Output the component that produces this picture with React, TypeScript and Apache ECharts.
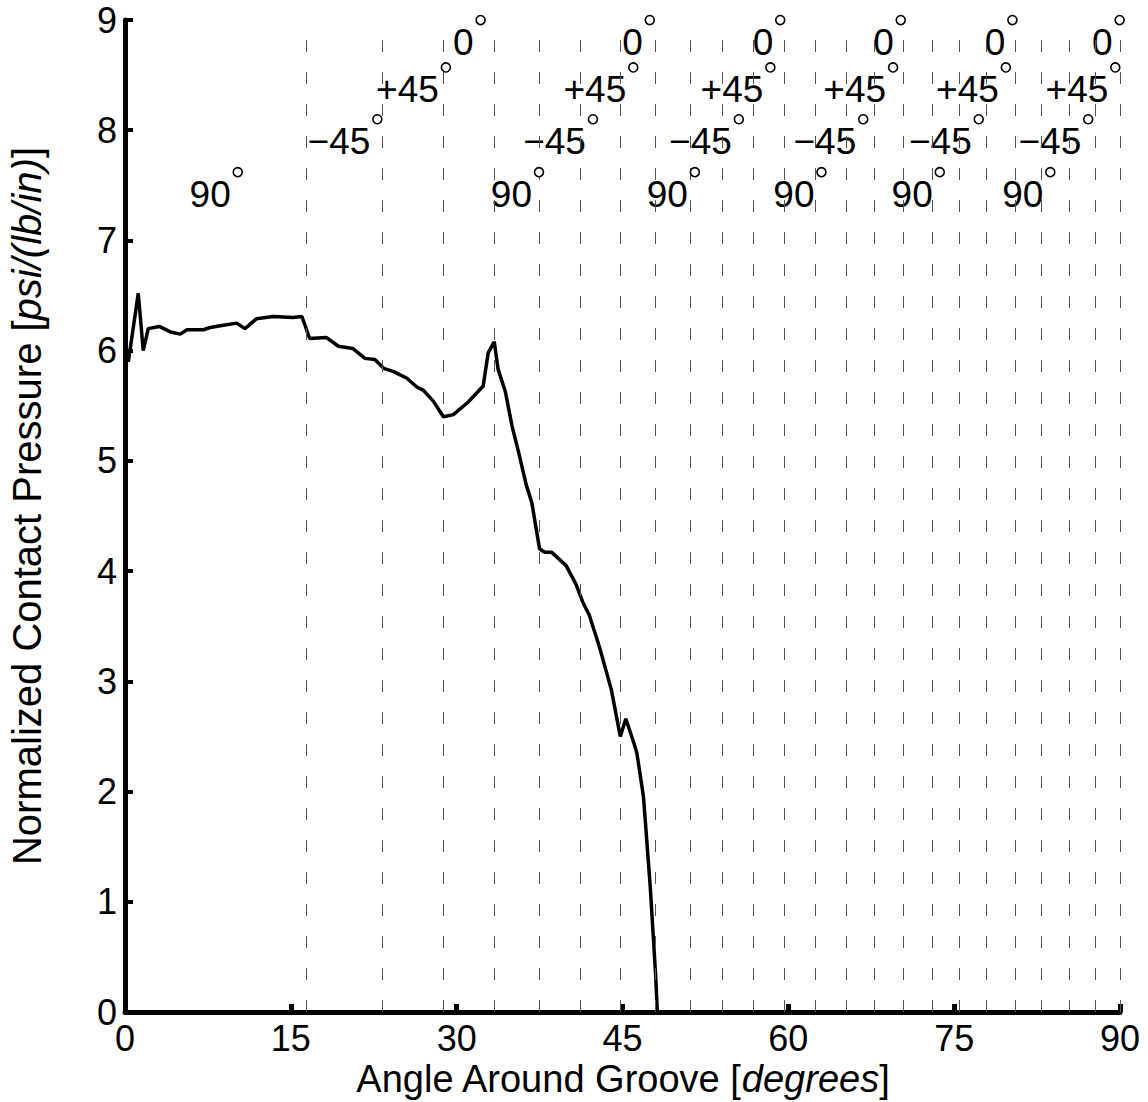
import React, { useEffect, useRef } from 'react';
import * as echarts from 'echarts';

// Curve: angle around groove [deg] vs normalized contact pressure
const angle = [0, 0.3, 1.2, 1.65, 2.1, 3.1, 4.1, 5.0, 5.6, 7.1, 7.7, 8.9, 10.1, 10.85, 11.9, 13.4, 15.2, 16.0, 16.7, 18.2, 19.3, 20.6, 21.7, 22.6, 23.4, 24.3, 25.5, 26.4, 27.0, 27.9, 28.8, 29.7, 31.0, 32.4, 32.85, 33.4, 33.75, 34.4, 35.0, 35.6, 36.3, 36.8, 37.5, 38.0, 38.6, 39.9, 40.8, 41.4, 42.0, 42.95, 44.0, 44.8, 45.3, 46.0, 46.3, 46.9, 47.5, 48.0, 48.15];
const pressure = [6.02, 5.9, 6.52, 6.0, 6.2, 6.22, 6.17, 6.15, 6.19, 6.19, 6.21, 6.23, 6.25, 6.2, 6.29, 6.31, 6.3, 6.31, 6.11, 6.12, 6.04, 6.02, 5.93, 5.92, 5.84, 5.81, 5.75, 5.67, 5.64, 5.54, 5.4, 5.42, 5.53, 5.68, 5.98, 6.08, 5.83, 5.63, 5.32, 5.08, 4.78, 4.62, 4.2, 4.17, 4.17, 4.05, 3.88, 3.72, 3.6, 3.3, 2.92, 2.5, 2.66, 2.45, 2.35, 1.95, 1.15, 0.33, 0.0];

// Ply boundaries (dashed vertical lines), degrees
const plyBoundaries = [16.4, 23.3, 28.8, 33.4, 37.5, 41.2, 44.8, 48.0, 51.1, 54.0, 56.8, 59.6, 62.4, 65.2, 67.8, 70.4, 73.0, 75.5, 77.9, 80.5, 82.9, 85.4, 87.8, 90];

// Ply orientation labels, one per region between boundaries
const plyLabels = ['90', '−45', '+45', '0', '90', '−45', '+45', '0', '90', '−45', '+45', '0', '90', '−45', '+45', '0', '90', '−45', '+45', '0', '90', '−45', '+45', '0'];
const plyLabelNames = ['90', '−45', '+45', '0'];
const plyLabelHeights = [7.42, 7.9, 8.37, 8.8];

const xTickInterval = 15;
const yTickInterval = 1;

const FONT = "'Liberation Sans', Arial, Helvetica, sans-serif";
const LABEL_SIZE = 37;

export default function App() {
  const ref = useRef<HTMLDivElement>(null);

  useEffect(() => {
    const el = ref.current;
    if (!el) return;
    const chart = echarts.init(el, null, { renderer: 'svg' });

    const canvas = document.createElement('canvas');
    const ctx = canvas.getContext('2d');
    const measure = (t: string) => {
      if (!ctx) return t.length * 0.56 * LABEL_SIZE;
      ctx.font = `${LABEL_SIZE}px ${FONT}`;
      return ctx.measureText(t).width;
    };

    const edges = [0, ...plyBoundaries];
    const labelData = plyLabels.map((lab, i) => {
      const cx = (edges[i] + edges[i + 1]) / 2;
      const row = plyLabelHeights[plyLabelNames.indexOf(lab)];
      return { value: [cx, row], name: lab };
    });
    const ringData = plyLabels.map((lab, i) => {
      const cx = (edges[i] + edges[i + 1]) / 2;
      const row = plyLabelHeights[plyLabelNames.indexOf(lab)];
      const w = measure(lab);
      return { value: [cx, row], symbolOffset: [w / 2 + 1.5, -22] };
    });

    const option: any = {
      animation: false,
      backgroundColor: '#ffffff',
      textStyle: { fontFamily: FONT },
      grid: { left: 125, right: 28, top: 20, bottom: 90, containLabel: false, outerBoundsMode: 'none' },
      xAxis: {
        type: 'value',
        min: 0,
        max: 90,
        interval: xTickInterval,
        name: 'Angle Around Groove [{i|degrees}]',
        nameLocation: 'middle',
        nameGap: 48,
        nameMoveOverlap: false,
        nameTextStyle: {
          fontSize: 38,
          lineHeight: 38,
          color: '#000',
          fontFamily: FONT,
          rich: { i: { fontSize: 38, lineHeight: 38, fontStyle: 'italic', color: '#000', fontFamily: FONT } },
        },
        axisLine: { show: true, onZero: false, lineStyle: { color: '#000', width: 5 } },
        axisTick: { show: true, inside: true, length: 8, lineStyle: { color: '#000', width: 5 } },
        axisLabel: { fontSize: 36, color: '#000', margin: 8, fontFamily: FONT },
        splitLine: { show: false },
      },
      yAxis: {
        type: 'value',
        min: 0,
        max: 9,
        interval: yTickInterval,
        name: 'Normalized Contact Pressure [{i|psi/(lb/in)}]',
        nameLocation: 'middle',
        nameGap: 78,
        nameMoveOverlap: false,
        nameTextStyle: {
          fontSize: 40,
          color: '#000',
          fontFamily: FONT,
          padding: [0, 0, 0, 20],
          rich: { i: { fontSize: 40, fontStyle: 'italic', color: '#000', fontFamily: FONT } },
        },
        axisLine: { show: true, onZero: false, lineStyle: { color: '#000', width: 5 } },
        axisTick: { show: true, inside: true, length: 8, lineStyle: { color: '#000', width: 4 } },
        axisLabel: { fontSize: 36, color: '#000', margin: 8, fontFamily: FONT },
        splitLine: { show: false },
      },
      series: [
        {
          type: 'line',
          data: angle.map((a, i) => [a, pressure[i]]),
          showSymbol: false,
          symbol: 'none',
          lineStyle: { color: '#000', width: 3.5 },
          z: 3,
          markLine: {
            silent: true,
            symbol: ['none', 'none'],
            label: { show: false },
            lineStyle: { color: '#555', width: 1, type: [12, 20] },
            data: plyBoundaries.map((v) => ({ xAxis: v })),
          },
        },
        {
          type: 'scatter',
          data: labelData,
          symbol: 'circle',
          symbolSize: 1,
          itemStyle: { color: 'rgba(0,0,0,0)', opacity: 1 },
          z: 4,
          label: {
            show: true,
            position: 'inside',
            offset: [-5.5, 0],
            formatter: (p: any) => p.name,
            fontSize: LABEL_SIZE,
            color: '#000',
            opacity: 1,
            textBorderWidth: 0,
            fontFamily: FONT,
          },
        },
        {
          type: 'scatter',
          data: ringData,
          symbol: 'circle',
          symbolSize: 9,
          itemStyle: { color: '#fff', borderColor: '#000', borderWidth: 1.6, opacity: 1 },
          z: 5,
        },
      ],
    };

    chart.setOption(option);
    return () => chart.dispose();
  }, []);

  return (
    <div
      ref={ref}
      style={{ position: 'absolute', left: 0, top: 0, width: 1148, height: 1102 }}
    />
  );
}
